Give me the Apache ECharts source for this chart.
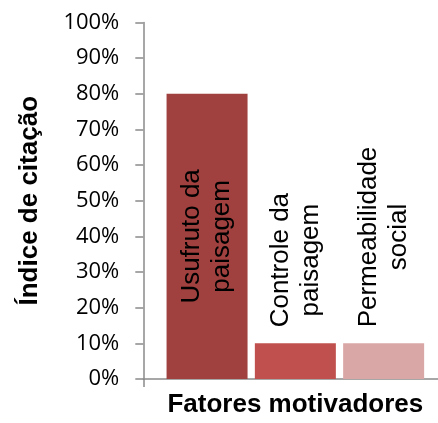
<!DOCTYPE html>
<html>
<head>
<meta charset="utf-8">
<script src="https://cdn.jsdelivr.net/npm/echarts@6/dist/echarts.min.js"></script>
<style>
  html, body { margin: 0; padding: 0; background: #fff; overflow: hidden; }
  /* the plot area runs a little past the right edge of the page */
  #chart { width: 448px; height: 423px; }
</style>
</head>
<body>
<div id="chart"></div>
<script>
// Motivating factors and their citation index (%)
const factors = ['Usufruto da\npaisagem', 'Controle da\npaisagem', 'Permeabilidade\nsocial'];
const citationIndex = [80, 10, 10];
const barColors = ['#A0413F', '#C0504D', '#D9A7A6'];
const labelPositions = ['inside', 'top', 'top'];

const axisColor = '#8a8a8a';

function richLabel(text) {
  return text.split('\n').map(function (line) { return '{t|' + line + '}'; }).join('\n');
}

const series = factors.map(function (name, i) {
  const inside = labelPositions[i] === 'inside';
  return {
    type: 'bar',
    name: name,
    data: [citationIndex[i]],
    barWidth: 81,
    barGap: '9%',
    itemStyle: { color: barColors[i] },
    label: {
      show: true,
      position: labelPositions[i],
      distance: inside ? 0 : 16,
      rotate: 90,
      align: inside ? 'center' : 'left',
      verticalAlign: 'middle',
      formatter: function () { return richLabel(name); },
      rich: {
        t: {
          align: 'center',
          fontFamily: '"Liberation Sans", Arial, sans-serif',
          fontSize: 26,
          lineHeight: 30,
          color: '#000'
        }
      }
    }
  };
});

const chart = echarts.init(document.getElementById('chart'), null, { renderer: 'canvas' });
chart.setOption({
  animation: false,
  grid: { left: 143.3, top: 22.5, bottom: 44, right: 0.6, containLabel: false },
  xAxis: {
    type: 'category',
    data: [''],
    name: 'Fatores motivadores',
    nameLocation: 'middle',
    nameGap: 13,
    nameTextStyle: {
      fontFamily: '"Liberation Sans", Arial, sans-serif',
      fontWeight: 'bold',
      fontSize: 26,
      color: '#000'
    },
    axisLine: { lineStyle: { color: axisColor, width: 1.5 } },
    axisTick: { show: true, length: 8, lineStyle: { color: axisColor, width: 1.5 } },
    axisLabel: { show: false }
  },
  yAxis: {
    type: 'value',
    min: 0,
    max: 100,
    interval: 10,
    name: 'Índice de citação',
    nameLocation: 'middle',
    nameGap: 100,
    nameTextStyle: {
      fontFamily: '"Liberation Sans", Arial, sans-serif',
      fontWeight: 'bold',
      fontSize: 26,
      color: '#000'
    },
    axisLine: { show: true, lineStyle: { color: axisColor, width: 1.5 } },
    axisTick: { show: true, length: 8, lineStyle: { color: axisColor, width: 1.5 } },
    splitLine: { show: false },
    axisLabel: {
      formatter: '{value}%',
      margin: 24,
      fontFamily: '"Open Sans", sans-serif',
      fontSize: 22,
      color: '#000'
    }
  },
  series: series
});
</script>
</body>
</html>
